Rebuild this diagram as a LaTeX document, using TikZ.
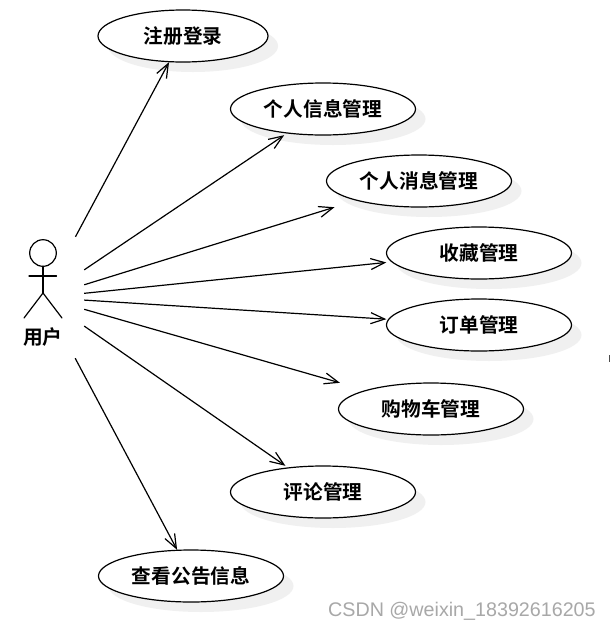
\documentclass[tikz,border=0pt]{standalone}
\usepackage{fontspec}
\setmainfont{Liberation Sans}
\newfontfamily\cjkbold{Noto Sans CJK SC Bold}
\usetikzlibrary{arrows.meta}
\definecolor{shadowgrey}{HTML}{F0F0F0}
\definecolor{markgrey}{HTML}{A8A8A8}
\tikzset{
  ucbox/.style={rectangle,inner sep=0pt,minimum height=52pt,font=\cjkbold\fontsize{19.7}{21}\selectfont,text=black},
  ucoutline/.style={draw=black,line width=1.2pt,fill=white},
  ucshadow/.style={fill=shadowgrey,draw=none},
  actorline/.style={draw=black,line width=1.2pt,line cap=round},
  assoc/.style={draw=black,line width=1.2pt,-{Straight Barb[length=14pt,width=11pt,line width=1.2pt]}},
  actorbox/.style={rectangle,inner sep=0pt,minimum width=82pt,minimum height=121pt},
}
\newcommand{\ucase}[5]{%
  \fill[ucshadow] (#2+10,#3+10) ellipse [x radius=#4/2,y radius=26];
  \draw[ucoutline] (#2,#3) ellipse [x radius=#4/2,y radius=26];
  \node[ucbox,minimum width=#4 pt] (#1) at (#2,#3) {#5};
}
\begin{document}
\begin{tikzpicture}[x=1pt,y=-1pt]
\useasboundingbox (0,0) rectangle (610,630);
\fill[white] (0,0) rectangle (610,630);
\ucase{u1}{183}{36}{170}{注册登录}
\ucase{u2}{323}{109}{185}{个人信息管理}
\ucase{u3}{419}{181}{185}{个人消息管理}
\ucase{u4}{479}{253}{185}{收藏管理}
\ucase{u5}{479}{325}{185}{订单管理}
\ucase{u6}{431}{409}{185}{购物车管理}
\ucase{u7}{323}{492}{185}{评论管理}
\ucase{u8}{191}{576}{185}{查看公告信息}
% actor
\node[actorbox] (actor) at (43,297.5) {};
\draw[actorline] (43,253) circle [radius=13.3];
\draw[actorline] (43,266.3) -- (43,293);
\draw[actorline] (29,276) -- (56.5,276);
\draw[actorline] (24,318) -- (43,293) -- (62,318);
\node[font=\cjkbold\fontsize{19.7}{21}\selectfont,inner sep=0pt] (actorlabel) at (43,337) {用户};
% connectors
\foreach \t in {u1,u2,u3,u4,u5,u6,u7,u8}
  \draw[assoc] (actor) -- (\t);
% watermark
\node[font=\fontsize{19.7}{21}\selectfont,text=markgrey,anchor=west,inner sep=0pt] (wm) at (328,611) {CSDN @weixin\_18392616205};
% clipped glyph fragment at the right edge
\fill[black!70] (608.5,355) rectangle (610,362);
\end{tikzpicture}
\end{document}
